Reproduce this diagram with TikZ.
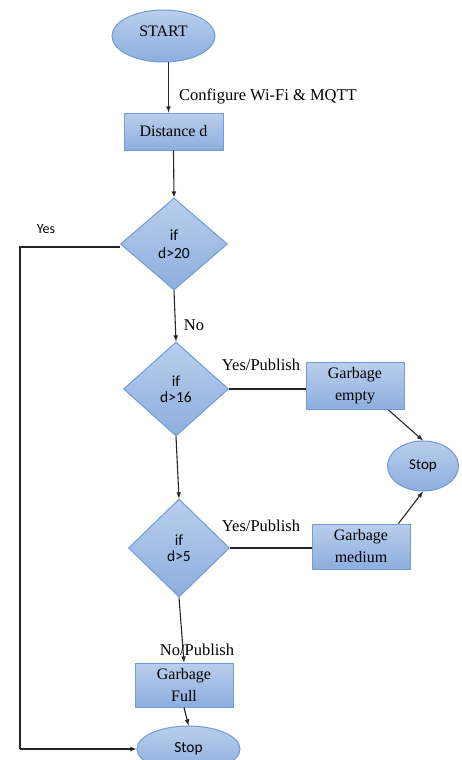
\documentclass[tikz,border=0pt]{standalone}
\usepackage{fontspec}
\setmainfont{Liberation Serif}
\newfontfamily\calib{Carlito}
\usepackage{tikz}
\usetikzlibrary{calc,shapes.geometric}

\definecolor{BoxTop}{RGB}{186,206,236}
\definecolor{BoxBot}{RGB}{140,174,222}
\definecolor{BoxLine}{RGB}{112,155,214}

\begin{document}
\begin{tikzpicture}[x=1pt,y=-1pt,
S1/.style={rectangle, draw=BoxLine, top color=BoxTop, bottom color=BoxBot, line width=1pt,
inner sep=0pt, align=center, font=\fontsize{16}{22}\selectfont},
S2/.style={diamond, draw=BoxLine, top color=BoxTop, bottom color=BoxBot, line width=1pt,
inner sep=0pt, align=center, font=\calib\fontsize{15.5}{16}\selectfont},
S3/.style={ellipse, draw=BoxLine, top color=BoxTop, bottom color=BoxBot, line width=1pt,
inner sep=0pt},
L1/.style={font=\fontsize{16.5}{18}\selectfont, inner sep=0pt},
A1/.style={line width=1.1pt, draw=black!85, ->, >=latex},
]
	\clip (0,0) rectangle (462,760);
	\fill[white] (0,0) rectangle (462,760);

	% start and first step
	\node[
	S3,
	minimum width=103,
	minimum height=52,
	text depth=10pt,
	font=\fontsize{16}{18}\selectfont,
	] (START) at (163.5,36) {START};
	\node[
	S1,
	minimum width=99,
	minimum height=37,
	] (Dist) at (173.5,131.5) {Distance d};
	\node[L1] (Cfg) at (268,96) {Configure Wi-Fi \& MQTT};

	% decisions
	\node[
	S2,
	minimum width=107,
	minimum height=92,
	font=\calib\fontsize{15.5}{18}\selectfont,
	] (D1) at (174,244) {if\\d>20};
	\node[
	S2,
	minimum width=105,
	minimum height=94,
	] (D2) at (176,389) {if\\d>16};
	\node[
	S2,
	minimum width=101,
	minimum height=98,
	] (D3) at (179,548) {if\\d>5};

	% results
	\node[
	S1,
	minimum width=98,
	minimum height=47,
	] (Empty) at (355,386) {Garbage\\empty};
	\node[
	S1,
	minimum width=98,
	minimum height=45,
	] (Med) at (361,546.5) {Garbage\\medium};
	\node[
	S1,
	minimum width=98,
	minimum height=44,
	] (Full) at (184,685) {Garbage\\Full};
	\node[
	S3,
	minimum width=71,
	minimum height=50,
	font=\calib\fontsize{15}{17}\selectfont,
	] (StopR) at (423,466) {Stop};
	\node[
	S3,
	minimum width=103,
	minimum height=46,
	font=\calib\fontsize{15.5}{17}\selectfont,
	] (StopB) at (188.5,749) {Stop};

	% labels
	\node[font=\calib\fontsize{14}{16}\selectfont] (YesL) at (46,229) {Yes};
	\node[L1] (NoL) at (194,325) {No};
	\node[L1] (Pub1) at (261,365) {Yes/Publish};
	\node[L1] (Pub2) at (261,526) {Yes/Publish};
	\coordinate (YesC) at (20,0);

	% connectors
	\draw[A1] ($ (START.south) + (5,0) $) -- ($ (Dist.north) + (-5,0) $);
	\draw[A1] (Dist.south) -- (D1.north);
	\draw[A1, -] ($ (D1.west) + (0,3) $) -- ($ (D1.west -| YesC) + (0,3) $) -- (YesC |- StopB.west);
	\draw[A1] (YesC |- StopB.west) -- (StopB.west);
	\draw[A1] (D1.south) -- (D2.north);
	\draw[A1, -] (D2.east) -- (D2.east -| Empty.west);
	\draw[A1] ($ (Empty.south east) + (-16,0) $) -- (StopR.north);
	\draw[A1] (D2.south) -- (D3.north);
	\draw[A1, -] (D3.east) -- (D3.east -| Med.west);
	\draw[A1] ($ (Med.north east) + (-12,0) $) -- (StopR.south);
	\draw[A1] (D3.south) -- (Full.north);
	\draw[A1] (Full.south) -- (StopB.north);
	\node[L1] (Pub3) at (197,650) {No/Publish};
\end{tikzpicture}
\end{document}
